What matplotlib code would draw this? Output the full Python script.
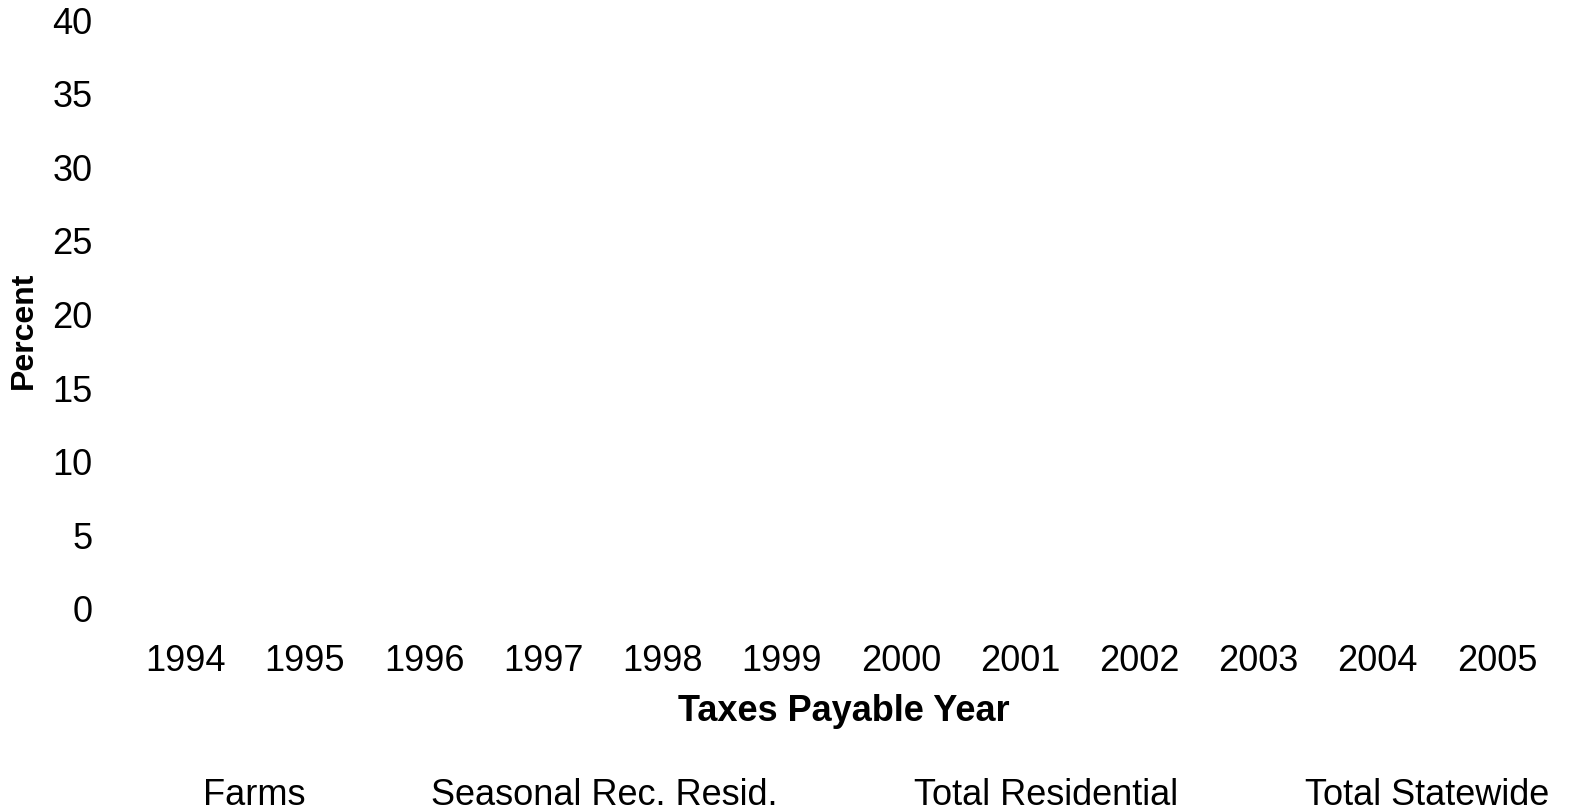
import numpy as np
import matplotlib
matplotlib.use("Agg")
import matplotlib.pyplot as plt

plt.rcParams['font.family'] = ['Liberation Sans', 'DejaVu Sans']

# ---- data ----
years = ["1994", "1995", "1996", "1997", "1998", "1999",
         "2000", "2001", "2002", "2003", "2004", "2005"]
y_ticks = [0, 5, 10, 15, 20, 25, 30, 35, 40]
series_names = ["Farms", "Seasonal Rec. Resid.", "Total Residential", "Total Statewide"]
# The reference shows no plotted values for any series (empty chart)
farms = [np.nan] * 12
seasonal_rec_resid = [np.nan] * 12
total_residential = [np.nan] * 12
total_statewide = [np.nan] * 12
series_values = [farms, seasonal_rec_resid, total_residential, total_statewide]

# ---- figure ----
W, H = 1577, 812
fig = plt.figure(figsize=(W / 100, H / 100), dpi=100, facecolor="white")
ax = fig.add_axes([126 / W, (H - 609) / H, (1556.6 - 126) / W, (609 - 20) / H])

x = np.arange(len(years))
for vals, name in zip(series_values, series_names):
    ax.plot(x, vals, label=name)

ax.set_xlim(-0.5, len(years) - 0.5)
ax.set_ylim(0, 40)
ax.set_xticks(x)
ax.set_xticklabels(years)
ax.set_yticks(y_ticks)
ax.set_yticklabels([str(v) for v in y_ticks])
ax.tick_params(axis="x", length=0, pad=25, labelsize=26, colors="black")
ax.tick_params(axis="y", length=0, pad=24, labelsize=26, colors="black")
for s in ax.spines.values():
    s.set_visible(False)
ax.set_facecolor("white")

# axis titles
fig.text(24 / W, 1 - 330 / H, "Percent", rotation=90, ha="center", va="center",
         fontsize=23, fontweight="bold")
fig.text(843.5 / W, 1 - 721 / H, "Taxes Payable Year", ha="center", va="baseline",
         fontsize=26, fontweight="bold")

# legend labels (no visible handles in the reference)
legend_centers = [254.5, 604, 1046, 1427]
for name, cx in zip(series_names, legend_centers):
    fig.text(cx / W, 1 - 805 / H, name, ha="center", va="baseline", fontsize=26)

fig.savefig("out.png", dpi=100, facecolor="white")
